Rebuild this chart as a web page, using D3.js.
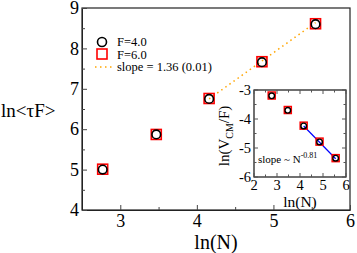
<!DOCTYPE html>
<html>
<head>
<meta charset="utf-8">
<script src="https://cdn.jsdelivr.net/npm/d3@7"></script>
<style>
  body { margin: 0; background: #fff; }
  text { font-family: "Liberation Serif", "DejaVu Serif", serif; }
</style>
</head>
<body>
<script>
// ln(N) values
const lnN = [2.77, 3.47, 4.16, 4.85, 5.55]
// main panel: ln<tau F>
const tauF4 = [5.00, 5.87, 6.75, 7.66, 8.60]
const tauF6 = [5.01, 5.87, 6.76, 7.67, 8.61]
const fitMainX = [4.16, 5.55]
const fitMainY = [6.75, 8.64]
// inset: ln(Vcm/F)
const vcm4 = [-3.20, -3.70, -4.24, -4.79, -5.35]
const vcm6 = [-3.19, -3.69, -4.23, -4.78, -5.35]
const fitInsetX = [4.16, 5.55]
const fitInsetY = [-4.24, -5.37]

const mainXTicks = [3, 4, 5, 6]
const mainYTicks = [4, 5, 6, 7, 8, 9]
const insetXTicks = [2, 3, 4, 5, 6]
const insetYTicks = [-3, -4, -5, -6]

const w = 357
const h = 253

const svg = d3.select('body').append('svg')
  .attr('width', w)
  .attr('height', h)

const xScale = d3.scaleLinear().domain([2.5, 6]).range([82, 350])
const yScale = d3.scaleLinear().domain([4, 9]).range([210, 8])

// frame
svg.append('rect')
  .attr('x', 82).attr('y', 8)
  .attr('width', 268).attr('height', 202)
  .attr('fill', 'none').attr('stroke', '#222').attr('stroke-width', 1.2)

const xAxis = d3.axisBottom(xScale).tickValues(d3.range(3, 6.01, 0.5))
  .tickSizeInner(-5).tickSizeOuter(0)
  .tickFormat(d => mainXTicks.includes(d) ? d : '')
const yAxis = d3.axisLeft(yScale).tickValues(d3.range(4, 9.01, 0.5))
  .tickSizeInner(-5).tickSizeOuter(0)
  .tickFormat(d => mainYTicks.includes(d) ? d : '')

const gx = svg.append('g').attr('transform', 'translate(0,210)').call(xAxis)
gx.selectAll('text').attr('font-size', 18).attr('y', 4).attr('fill', '#000')
  .style('font-family', '"Liberation Serif", serif')
gx.selectAll('.tick line').attr('y2', d => mainXTicks.includes(d) ? -5 : -3).attr('stroke', '#444')
gx.select('.domain').attr('stroke', '#222')

const gy = svg.append('g').attr('transform', 'translate(82,0)').call(yAxis)
gy.selectAll('text').attr('font-size', 18).attr('x', -3).attr('fill', '#000')
  .style('font-family', '"Liberation Serif", serif')
gy.selectAll('.tick line').attr('x2', d => mainYTicks.includes(d) ? 5 : 3).attr('stroke', '#444')
gy.select('.domain').attr('stroke', '#222')

svg.append('text')
  .attr('x', 216).attr('y', 249)
  .attr('text-anchor', 'middle').attr('font-size', 20)
  .text('ln(N)')

svg.append('text')
  .attr('x', 1).attr('y', 117)
  .attr('font-size', 19)
  .text('ln<τF>')

// fit line
svg.append('line')
  .attr('x1', xScale(fitMainX[0])).attr('y1', yScale(fitMainY[0]))
  .attr('x2', xScale(fitMainX[1])).attr('y2', yScale(fitMainY[1]))
  .attr('stroke', '#ffa500').attr('stroke-width', 1.5)
  .attr('stroke-dasharray', '1.5,3.5')

svg.selectAll('.sq')
  .data(lnN.map((d, i) => [d, tauF6[i]]))
  .enter().append('rect')
  .attr('x', d => xScale(d[0]) - 5).attr('y', d => yScale(d[1]) - 5)
  .attr('width', 10).attr('height', 10)
  .attr('fill', 'none').attr('stroke', '#f00').attr('stroke-width', 1.6)

svg.selectAll('.ci')
  .data(lnN.map((d, i) => [d, tauF4[i]]))
  .enter().append('circle')
  .attr('cx', d => xScale(d[0])).attr('cy', d => yScale(d[1]))
  .attr('r', 4.3)
  .attr('fill', 'none').attr('stroke', '#000').attr('stroke-width', 1.6)

// legend
const legend = svg.append('g')
legend.append('circle').attr('cx', 102).attr('cy', 42).attr('r', 4.5)
  .attr('fill', 'none').attr('stroke', '#000').attr('stroke-width', 1.6)
legend.append('rect').attr('x', 97).attr('y', 49).attr('width', 10).attr('height', 10)
  .attr('fill', 'none').attr('stroke', '#f00').attr('stroke-width', 1.6)
legend.append('line').attr('x1', 95).attr('x2', 112).attr('y1', 67).attr('y2', 67)
  .attr('stroke', '#ffa500').attr('stroke-width', 1.5).attr('stroke-dasharray', '1.5,3.5')
const legendText = ['F=4.0', 'F=6.0', 'slope = 1.36 (0.01)']
legend.selectAll('text').data(legendText).enter().append('text')
  .attr('x', 117).attr('y', (d, i) => 46 + i * 12.5)
  .attr('font-size', 12.5)
  .text(d => d)

// inset
const ix = d3.scaleLinear().domain([2, 6]).range([254, 346])
const iy = d3.scaleLinear().domain([-6, -3]).range([177, 90])

svg.append('rect')
  .attr('x', 254).attr('y', 90).attr('width', 92).attr('height', 87)
  .attr('fill', '#fff').attr('stroke', '#111').attr('stroke-width', 1.2)

const ixTicks = d3.range(2, 6.01, 0.5)
const iyTicks = d3.range(-6, -2.99, 0.5)
const inset = svg.append('g')
ixTicks.forEach(t => {
  const len = Number.isInteger(t) ? 4 : 2.5
  inset.append('line').attr('x1', ix(t)).attr('x2', ix(t)).attr('y1', 177).attr('y2', 177 - len).attr('stroke', '#555')
  inset.append('line').attr('x1', ix(t)).attr('x2', ix(t)).attr('y1', 90).attr('y2', 90 + len).attr('stroke', '#555')
})
iyTicks.forEach(t => {
  const len = Number.isInteger(t) ? 4 : 2.5
  inset.append('line').attr('x1', 254).attr('x2', 254 + len).attr('y1', iy(t)).attr('y2', iy(t)).attr('stroke', '#555')
  inset.append('line').attr('x1', 346).attr('x2', 346 - len).attr('y1', iy(t)).attr('y2', iy(t)).attr('stroke', '#555')
})
inset.selectAll('.ixl').data(insetXTicks).enter().append('text')
  .attr('x', d => ix(d)).attr('y', 190)
  .attr('text-anchor', 'middle').attr('font-size', 14.5)
  .text(d => d)
inset.selectAll('.iyl').data(insetYTicks).enter().append('text')
  .attr('x', 251).attr('y', d => iy(d) + 5)
  .attr('text-anchor', 'end').attr('font-size', 14.5)
  .text(d => d)
inset.append('text')
  .attr('x', 300).attr('y', 207)
  .attr('text-anchor', 'middle').attr('font-size', 15.5)
  .text('ln(N)')
const ylab = inset.append('text')
  .attr('transform', 'translate(229,136) rotate(-90)')
  .attr('text-anchor', 'middle').attr('font-size', 15)
ylab.append('tspan').text('ln(V')
ylab.append('tspan').attr('font-size', 10).attr('dy', 4).text('CM')
ylab.append('tspan').attr('dy', -4).text('/F)')

inset.append('line')
  .attr('x1', ix(fitInsetX[0])).attr('y1', iy(fitInsetY[0]))
  .attr('x2', ix(fitInsetX[1])).attr('y2', iy(fitInsetY[1]))
  .attr('stroke', '#0000ff').attr('stroke-width', 1.2)

inset.selectAll('.isq')
  .data(lnN.map((d, i) => [d, vcm6[i]]))
  .enter().append('rect')
  .attr('x', d => ix(d[0]) - 3.5).attr('y', d => iy(d[1]) - 3.5)
  .attr('width', 7).attr('height', 7)
  .attr('fill', 'none').attr('stroke', '#f00').attr('stroke-width', 1.5)
inset.selectAll('.ici')
  .data(lnN.map((d, i) => [d, vcm4[i]]))
  .enter().append('circle')
  .attr('cx', d => ix(d[0])).attr('cy', d => iy(d[1]))
  .attr('r', 2.8)
  .attr('fill', 'none').attr('stroke', '#000').attr('stroke-width', 1.4)

const slopeText = inset.append('text')
  .attr('x', 258).attr('y', 163).attr('font-size', 11)
slopeText.append('tspan').text('slope ~ N')
slopeText.append('tspan').attr('dy', -5).attr('font-size', 8).text('-0.81')
</script>
</body>
</html>
